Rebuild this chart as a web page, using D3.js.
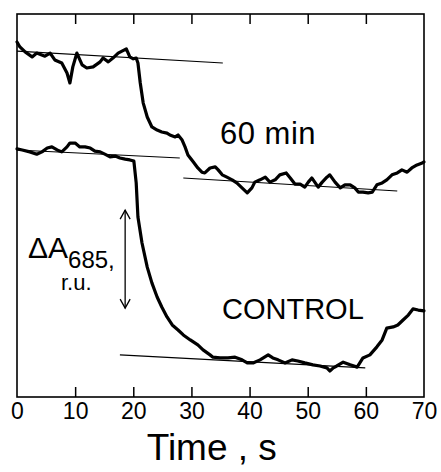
<!DOCTYPE html>
<html>
<head>
<meta charset="utf-8">
<script src="https://cdn.jsdelivr.net/npm/d3@7"></script>
<style>
  html, body { margin: 0; padding: 0; background: #fff; }
  svg { display: block; }
  text { font-family: "Liberation Sans", Arial, sans-serif; fill: #000; }
</style>
</head>
<body>
<svg id="chart" width="441" height="472"></svg>
<script>
// ---------- data (time in s, signal in relative units) ----------
const xTicks = [0, 10, 20, 30, 40, 50, 60, 70];
const xLabel = "Time , s";

const trace60Time = [0.0,0.5,1.4,2.6,3.4,4.8,5.7,6.5,7.7,8.6,9.1,9.6,10.3,11.2,12.0,13.1,14.3,14.8,15.7,16.5,17.4,18.8,19.4,20.0,20.5,20.8,21.2,21.7,22.4,23.2,24.1,24.9,25.8,26.3,27.2,27.7,28.4,28.9,29.4,30.3,31.1,31.8,32.3,33.2,34.1,34.6,35.3,36.1,37.0,37.8,38.7,39.6,40.4,40.9,41.8,42.7,43.5,44.4,45.2,46.3,47.0,47.8,48.7,49.5,50.1,50.7,51.3,51.8,52.5,53.3,53.8,54.7,55.6,56.4,57.3,58.1,58.7,59.5,60.4,61.1,61.9,62.8,63.6,64.5,65.4,66.2,67.1,67.9,68.8,69.7,70.0];
const trace60Value = [92.7,91.4,90.1,88.8,89.8,89.0,89.8,88.0,87.2,84.6,82.0,86.2,89.8,86.7,85.9,86.2,87.5,88.5,87.5,88.5,89.8,90.9,88.8,88.3,88.5,87.2,82.0,76.8,73.1,70.5,69.7,69.2,68.9,68.4,67.9,68.4,67.1,65.3,63.2,61.4,59.8,58.7,58.5,59.8,60.1,59.3,58.0,57.4,56.7,55.9,54.6,53.3,54.6,56.1,56.7,57.4,56.1,56.7,58.0,58.5,57.2,55.6,55.6,54.8,56.1,57.2,55.9,54.8,56.1,57.4,58.0,56.1,54.6,55.4,55.4,54.6,53.5,53.5,53.3,53.5,55.4,55.9,56.7,58.0,58.5,59.3,58.7,59.8,60.6,61.1,61.4];

const controlTime = [0.0,0.9,2.2,3.4,4.3,5.2,6.0,6.9,7.7,8.6,9.1,10.0,10.8,11.7,12.6,13.4,14.3,15.1,16.0,16.9,17.7,18.6,19.4,20.1,20.5,20.8,21.5,22.4,23.2,24.1,24.9,25.8,26.7,27.7,28.6,29.8,31.1,32.0,33.2,33.7,34.9,36.3,37.5,38.7,39.6,40.6,41.8,43.2,44.0,44.9,46.1,47.3,48.3,49.5,50.9,52.1,53.3,53.8,54.4,55.0,56.1,57.3,58.5,59.5,60.7,61.9,62.8,63.6,64.7,65.5,66.4,67.3,68.1,69.0,70.0];
const controlValue = [64.8,64.5,64.0,63.4,64.0,65.0,65.3,64.5,64.0,65.3,66.3,66.3,65.3,65.3,65.0,64.2,64.0,63.4,62.7,62.9,62.4,62.1,61.9,61.6,55.9,47.0,40.2,33.9,29.8,26.1,23.5,20.9,18.8,17.5,16.2,14.9,13.6,12.3,11.0,10.4,10.2,10.2,10.4,9.7,8.9,8.9,9.7,11.0,10.2,9.7,8.9,9.7,9.4,8.9,8.4,8.1,7.6,6.8,7.6,8.1,9.1,8.4,7.8,10.2,11.0,13.1,14.9,18.0,18.3,18.8,20.1,21.4,23.0,22.7,22.5];

// baseline fits: [t1, v1, t2, v2]
const fit60Before  = [0.0, 90.3, 35.4, 87.2];
const fit60After   = [28.6, 57.2, 65.4, 53.8];
const fitCtrlBefore = [0.0, 64.5, 28.0, 62.4];
const fitCtrlAfter  = [17.7, 11.0, 59.9, 7.6];

// amplitude arrow [t, vTop, vBottom]
const arrowSpec = [18.6, 48.8, 23.2];

// ---------- layout ----------
const svg = d3.select("#chart");
const L = 17, R = 424, T = 14, B = 397;

const x = d3.scaleLinear().domain([0, 70]).range([L, R]);
const y = d3.scaleLinear().domain([0, 100]).range([B, T]);

// frame
svg.append("rect")
  .attr("x", L).attr("y", T).attr("width", R - L).attr("height", B - T)
  .attr("fill", "none").attr("stroke", "#000").attr("stroke-width", 1.6);

// bottom axis with inward ticks
const inner = xTicks.filter(d => d > 0 && d < 70);
const gB = svg.append("g").attr("transform", `translate(0,${B})`)
  .call(d3.axisBottom(x).tickValues(xTicks).tickSize(-10).tickSizeOuter(0).tickPadding(6));
gB.select(".domain").remove();
gB.selectAll(".tick line")
  .attr("stroke", "#000").attr("stroke-width", 1.5)
  .attr("display", d => (d > 0 && d < 70) ? null : "none");
gB.selectAll(".tick text")
  .attr("font-size", 23)
  .attr("font-family", "Liberation Sans, Arial, sans-serif")
  .attr("fill", "#000");

// top axis ticks (inward)
const gT = svg.append("g").attr("transform", `translate(0,${T})`)
  .call(d3.axisTop(x).tickValues(inner).tickSize(-10).tickSizeOuter(0).tickFormat(""));
gT.select(".domain").remove();
gT.selectAll(".tick line").attr("stroke", "#000").attr("stroke-width", 1.5);

// axis title
svg.append("text")
  .attr("x", x(33.5)).attr("y", 460)
  .attr("text-anchor", "middle")
  .attr("font-size", 37)
  .text(xLabel);

// fit lines
[fit60Before, fit60After, fitCtrlBefore, fitCtrlAfter].forEach(f => {
  svg.append("line")
    .attr("x1", x(f[0])).attr("y1", y(f[1]))
    .attr("x2", x(f[2])).attr("y2", y(f[3]))
    .attr("stroke", "#000").attr("stroke-width", 1.1);
});

// traces
const line = d3.line().x(d => x(d[0])).y(d => y(d[1]));
const series = [
  d3.zip(trace60Time, trace60Value),
  d3.zip(controlTime, controlValue)
];
series.forEach(s => {
  svg.append("path")
    .datum(s)
    .attr("d", line)
    .attr("fill", "none")
    .attr("stroke", "#000")
    .attr("stroke-width", 3.2)
    .attr("stroke-linejoin", "round")
    .attr("stroke-linecap", "round");
});

// amplitude arrow
const ax = x(arrowSpec[0]), ay1 = y(arrowSpec[1]), ay2 = y(arrowSpec[2]);
svg.append("line")
  .attr("x1", ax).attr("y1", ay1).attr("x2", ax).attr("y2", ay2)
  .attr("stroke", "#000").attr("stroke-width", 1.3);
svg.append("path")
  .attr("d", `M${ax - 5},${ay1 + 9} L${ax},${ay1} L${ax + 5},${ay1 + 9}`)
  .attr("fill", "none").attr("stroke", "#000").attr("stroke-width", 1.3);
svg.append("path")
  .attr("d", `M${ax - 5},${ay2 - 9} L${ax},${ay2} L${ax + 5},${ay2 - 9}`)
  .attr("fill", "none").attr("stroke", "#000").attr("stroke-width", 1.3);

// labels
const lab = svg.append("text").attr("x", 28).attr("y", 258).attr("font-size", 30);
lab.append("tspan").text("ΔA");
lab.append("tspan").attr("font-size", 24).attr("dy", 10).text("685,");
svg.append("text").attr("x", 61).attr("y", 290).attr("font-size", 22).text("r.u.");

svg.append("text").attr("x", 220).attr("y", 144).attr("font-size", 31)
  .attr("letter-spacing", 0.5).text("60 min");
svg.append("text").attr("x", 222).attr("y", 319).attr("font-size", 29).text("CONTROL");
</script>
</body>
</html>
